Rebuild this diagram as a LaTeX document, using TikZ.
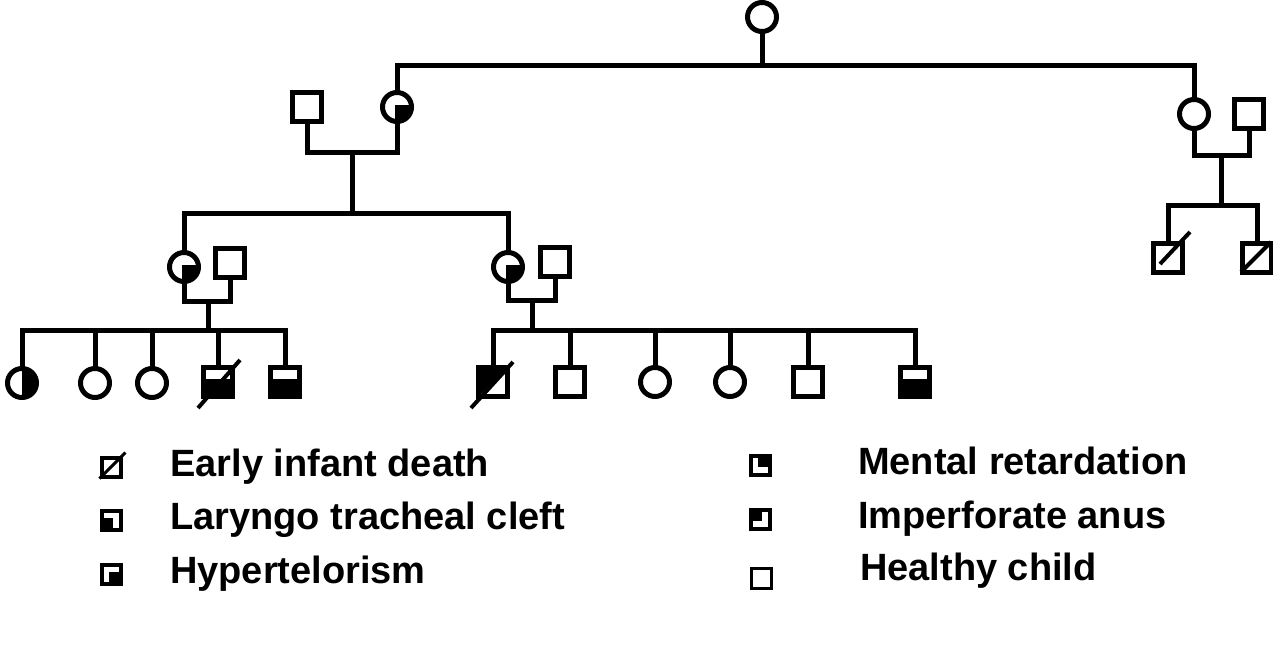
\documentclass[tikz,border=0pt]{standalone}
\usepackage{fontspec}
\setmainfont{Liberation Sans}
\usetikzlibrary{calc}
\tikzset{
  sym/.style={draw=black, line width=5pt, inner sep=0pt, minimum size=29pt},
  sq/.style={sym, rectangle},
  ci/.style={sym, circle, minimum size=29pt},
  lg/.style={draw=black, line width=4pt, rectangle, inner sep=0pt, minimum size=19pt},
  con/.style={line width=5pt, line cap=rect},
  slash/.style={line width=4pt},
  fTR/.style={path picture={\fill[black] ($(path picture bounding box.center)+(-2,2)$) rectangle (path picture bounding box.north east);}},
  fTL/.style={path picture={\fill[black] ($(path picture bounding box.center)+(2,2)$) rectangle (path picture bounding box.north west);}},
  fBL/.style={path picture={\fill[black] ($(path picture bounding box.center)+(2,-2)$) rectangle (path picture bounding box.south west);}},
  fBR/.style={path picture={\fill[black] ($(path picture bounding box.center)+(-2,-2)$) rectangle (path picture bounding box.south east);}},
  fR/.style={path picture={\fill[black] (path picture bounding box.north) rectangle (path picture bounding box.south east);}},
  fB/.style={path picture={\fill[black] (path picture bounding box.south west) rectangle ($(path picture bounding box.north east)!0.4!(path picture bounding box.south east)$);}},
  fTri/.style={path picture={\fill[black] (path picture bounding box.north west) -- (path picture bounding box.north east) -- (path picture bounding box.south west) -- cycle;}},
  lbl/.style={anchor=base west, inner sep=0pt, font=\fontsize{38}{38}\selectfont\bfseries},
}
\begin{document}
\begin{tikzpicture}[x=1pt, y=-1pt]
\useasboundingbox (0,0) rectangle (1273,656);
% generation 1
\node[ci] (F0) at (762,17) {};
\coordinate (J0) at (762,65);
% generation 2
\node[sq] (M1) at (307,107) {};
\node[ci, fBR] (F1) at (397,107) {};
\node[ci] (F2) at (1194,114) {};
\node[sq] (M2) at (1249,114) {};
\coordinate (C1) at (352,152);
\coordinate (S1) at (352,213);
\coordinate (C2) at (1221,155);
\coordinate (S2) at (1221,205);
% generation 3
\node[ci, fBR] (F3) at (184,267) {};
\node[sq] (M3) at (230,263) {};
\node[ci, fBR] (F4) at (508,267) {};
\node[sq] (M4) at (555,262) {};
\coordinate (C3) at (208,301);
\coordinate (S3) at (208,330);
\coordinate (C4) at (532,300);
\coordinate (S4) at (532,330);
\node[sq] (d1) at (1168,258) {};
\node[sq] (d2) at (1257,258) {};
% generation 4
\node[ci, fR] (a1) at (22,383) {};
\node[ci] (a2) at (95,383) {};
\node[ci] (a3) at (152,383) {};
\node[sq, fB] (a4) at (218,382) {};
\node[sq, fB] (a5) at (285,382) {};
\node[sq, fTri] (b1) at (493,382) {};
\node[sq] (b2) at (570,382) {};
\node[ci] (b3) at (655,382) {};
\node[ci] (b4) at (730,382) {};
\node[sq] (b5) at (808,382) {};
\node[sq, fB] (b6) at (915,382) {};
% connectors
\draw[con] (F0) -- (J0);
\draw[con] (F1.north) |- (J0) -| (F2.north);
\draw[con] (M1.south) |- (C1) -| (F1.south);
\draw[con] (C1) -- (S1);
\draw[con] (F3.north) |- (S1) -| (F4.north);
\draw[con] (F2.south) |- (C2) -| (M2.south);
\draw[con] (C2) -- (S2);
\draw[con] (d1.north) |- (S2) -| (d2.north);
\draw[con] (F3.south) |- (C3) -| (M3.south);
\draw[con] (C3) -- (S3);
\draw[con] (a1.north) |- (S3) -| (a5.north);
\draw[con] (a2.north) -- (a2.north |- S3);
\draw[con] (a3.north) -- (a3.north |- S3);
\draw[con] (a4.north) -- (a4.north |- S3);
\draw[con] (F4.south) |- (C4) -| (M4.south);
\draw[con] (C4) -- (S4);
\draw[con] (b1.north) |- (S4) -| (b6.north);
\draw[con] (b2.north) -- (b2.north |- S4);
\draw[con] (b3.north) -- (b3.north |- S4);
\draw[con] (b4.north) -- (b4.north |- S4);
\draw[con] (b5.north) -- (b5.north |- S4);
% slashes
\draw[slash] ($(a4.center)+(-20,26)$) -- ($(a4.center)+(22,-22)$);
\draw[slash] ($(b1.center)+(-22,26)$) -- ($(b1.center)+(20,-20)$);
\draw[slash] ($(d1.center)+(-8,6)$) -- ($(d1.center)+(22,-26)$);
\draw[slash] ($(d2.center)+(-16,14)$) -- ($(d2.center)+(14,-16)$);
% legend
\node[lg] (L1) at (111,467) {};
\draw[slash, line width=3pt] (L1.south west) -- ($(L1.north east)+(3,-3)$);
\node[lg, fBL] (L2) at (111,520) {};
\node[lg, fBR] (L3) at (111,574) {};
\node[lg, fTR] (R1) at (760,465) {};
\node[lg, fTL] (R2) at (760,519) {};
\node[lg, line width=3pt, minimum size=20pt] (R3) at (761,578) {};
\node[lbl] (t1) at (170,476) {Early infant death};
\node[lbl] (t2) at (170,529) {Laryngo tracheal cleft};
\node[lbl] (t3) at (170,583) {Hypertelorism};
\node[lbl] (t4) at (858,474) {Mental retardation};
\node[lbl] (t5) at (858,528) {Imperforate anus};
\node[lbl] (t6) at (860,580) {Healthy child};
\end{tikzpicture}
\end{document}
